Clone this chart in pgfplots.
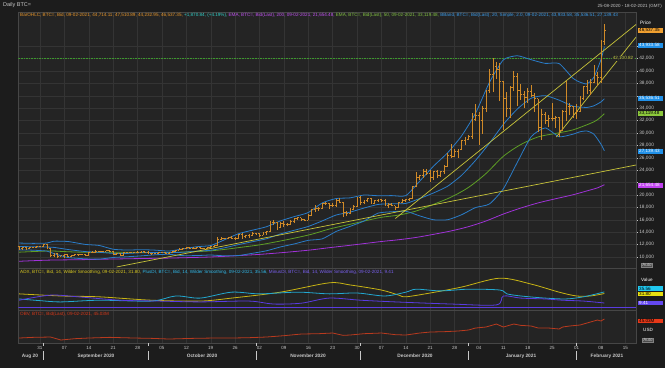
\documentclass[border=0pt]{standalone}
\usepackage{fontspec}
\setmainfont{Liberation Sans}
\usepackage{pgfplots}
\pgfplotsset{compat=1.18}
\usepackage{pgfplotstable}

\definecolor{outerbg}{HTML}{1C1C1C}
\definecolor{panelbg}{HTML}{242424}
\definecolor{gridc}{HTML}{343434}
\definecolor{framec}{HTML}{464646}
\definecolor{txt}{HTML}{C8C8C8}
\definecolor{candlec}{HTML}{D08A28}
\definecolor{bbc}{HTML}{2A7CC8}
\definecolor{ema50c}{HTML}{5E9E24}
\definecolor{ema200c}{HTML}{A032D8}
\definecolor{trendc}{HTML}{C8C43A}
\definecolor{resc}{HTML}{3C9A2C}
\definecolor{adxc}{HTML}{C8B414}
\definecolor{pdic}{HTML}{22A8D0}
\definecolor{mdic}{HTML}{5A3CE0}
\definecolor{obvc}{HTML}{B83A1E}
\definecolor{bxOrange}{HTML}{F0A030}
\definecolor{bxBlue}{HTML}{2090E8}
\definecolor{bxGreen}{HTML}{8CC83C}
\definecolor{bxPurple}{HTML}{C040F0}
\definecolor{bxCyan}{HTML}{20C8F0}
\definecolor{bxYellow}{HTML}{E8E010}
\definecolor{bxViolet}{HTML}{6448F0}
\definecolor{bxRed}{HTML}{E83818}
\definecolor{hOrange}{HTML}{E8962A}
\definecolor{hCyan}{HTML}{30D0C8}
\definecolor{hPurple}{HTML}{C050F0}
\definecolor{hGreen}{HTML}{80C040}
\definecolor{hBlue}{HTML}{3A9AE8}
\definecolor{hYellow}{HTML}{D8C820}
\definecolor{hCyanB}{HTML}{30B8E8}
\definecolor{hViolet}{HTML}{7A60F0}
\definecolor{hRed}{HTML}{D83818}
\definecolor{resT}{HTML}{C8D048}

\newcommand{\fs}[1]{\fontsize{#1}{#1}\selectfont}

\pgfdeclareplotmark{ohlcopen}{\pgfpathmoveto{\pgfqpoint{-1.4pt}{0pt}}\pgfpathlineto{\pgfqpoint{0pt}{0pt}}\pgfusepathqstroke}
\pgfdeclareplotmark{ohlcclose}{\pgfpathmoveto{\pgfqpoint{0pt}{0pt}}\pgfpathlineto{\pgfqpoint{1.4pt}{0pt}}\pgfusepathqstroke}

\pgfplotsset{
  chartpanel/.style={
    scale only axis, anchor=south west, width=617.7pt,
    xmin=-0.2, xmax=177.1,
    scaled x ticks=false, scaled y ticks=false,
    axis background/.style={fill=panelbg},
    axis line style={draw=framec, line width=0.5pt},
    xtick={6,13,...,174}, xticklabels={},
    xmajorgrids, major grid style={draw=gridc, line width=0.4pt},
    major x tick style={draw=none},
  },
}

\pgfplotstableread{
d o h l c
0 11750 11760 11130 11366
1 11366 11540 11150 11488
2 11488 11590 11160 11323
3 11323 11580 11300 11542
4 11542 11680 11420 11506
5 11506 11760 11460 11712
6 11712 11800 11580 11680
7 11680 12050 11560 11970
8 11970 12060 11220 11414
9 11414 11470 10000 10245
10 10245 10620 9960 10511
11 10511 10580 9880 10169
12 10169 10350 10090 10280
13 10280 10400 9900 10369
14 10369 10440 9950 10131
15 10131 10350 10060 10242
16 10242 10500 10200 10363
17 10363 10470 10240 10400
18 10400 10550 10370 10442
19 10442 10560 10250 10323
20 10323 10800 10300 10680
21 10680 10930 10620 10796
22 10796 11080 10750 10974
23 10974 11040 10760 10948
24 10948 11030 10840 10944
25 10944 11170 10900 11094
26 11094 11120 10850 10938
27 10938 10990 10400 10462
28 10462 10570 10390 10538
29 10538 10580 10200 10246
30 10246 10800 10210 10760
31 10760 10770 10630 10692
32 10692 10780 10650 10750
33 10750 10800 10630 10776
34 10776 10950 10680 10709
35 10709 10870 10640 10844
36 10844 10860 10680 10784
37 10784 10920 10550 10620
38 10620 10640 10400 10570
39 10570 10600 10510 10542
40 10542 10690 10500 10666
41 10666 10800 10640 10793
42 10793 10800 10560 10604
43 10604 10700 10590 10668
44 10668 10950 10650 10915
45 10915 11120 10840 11064
46 11064 11420 11050 11296
47 11296 11420 11280 11384
48 11384 11690 11320 11555
49 11555 11560 11320 11425
50 11425 11550 11300 11429
51 11429 11620 11290 11495
52 11495 11540 11250 11322
53 11322 11380 11300 11358
54 11358 11500 11350 11483
55 11483 11800 11410 11742
56 11742 12000 11690 11916
57 11916 13200 11900 12823
58 12823 13160 12710 12965
59 12965 13020 12880 12931
60 12931 13160 12910 13108
61 13108 13350 12980 13031
62 13031 13220 12820 13075
63 13075 13760 13060 13654
64 13654 13840 12950 13271
65 13271 13620 12990 13437
66 13437 13640 13130 13546
67 13546 14020 13530 13781
68 13781 13860 13620 13737
69 13737 13810 13300 13550
70 13550 14060 13540 13950
71 13950 14220 13620 14133
72 14133 15740 14090 15579
73 15579 15960 15170 15565
74 15565 15690 14420 14833
75 14833 15660 14750 15479
76 15479 15840 14830 15332
77 15332 15450 14950 15290
78 15290 15940 15270 15701
79 15701 16320 15460 16276
80 16276 16480 15990 16317
81 16317 16330 15880 16068
82 16068 16140 15870 15955
83 15955 16860 15910 16716
84 16716 17760 16580 17645
85 17645 18390 17260 17804
86 17804 18120 17430 17817
87 17817 18770 17760 18621
88 18621 18950 18450 18642
89 18642 18690 17710 18370
90 18370 18770 18050 18364
91 18364 19390 18130 19107
92 19107 19500 18630 18732
93 18732 18920 16440 17150
94 17150 17480 16560 17108
95 17108 17860 16920 17717
96 17717 18330 17570 18177
97 18177 19750 18100 19625
98 19625 19890 18350 18802
99 18802 19270 18600 19202
100 19202 19550 18920 19445
101 19445 19500 18620 18699
102 18699 19180 18560 19154
103 19154 19400 18930 19345
104 19345 19390 18920 19191
105 19191 19290 18230 18321
106 18321 18640 17930 18553
107 18553 18710 18180 18264
108 18264 18290 17620 18058
109 18058 18950 18020 18803
110 18803 19360 18760 19142
111 19142 19330 18950 19246
112 19246 19550 19080 19417
113 19417 21500 19300 21310
114 21310 23700 21250 22805
115 22805 23280 22380 23137
116 23137 24150 22810 23869
117 23869 24270 23180 23477
118 23477 24060 22160 22803
119 22803 23830 22390 23783
120 23783 24090 22720 23241
121 23241 23840 22900 23735
122 23735 24780 23460 24664
123 24664 26700 24580 26437
124 26437 28300 25950 26272
125 26272 27350 26200 27084
126 27084 27370 25980 27362
127 27362 28950 27250 28841
128 28841 29300 28000 29001
129 29001 29600 28800 29374
130 29374 33160 29100 32127
131 32127 34600 32000 32782
132 32782 33440 28130 31971
133 31971 34400 29900 33992
134 33992 36900 33400 36824
135 36824 40300 36400 39371
136 39371 42101 36600 40797
137 40797 41400 38700 40254
138 40254 41300 35200 38356
139 38356 38360 30550 35566
140 35566 36600 32550 33922
141 33922 37600 32400 37316
142 37316 39960 36750 39187
143 39187 39700 34400 36825
144 36825 37900 35400 36178
145 36178 36800 34000 35792
146 35792 37200 34900 36630
147 36630 37800 35800 36069
148 36069 36400 33400 35547
149 35547 35550 30100 30825
150 30825 33800 28950 33005
151 33005 33350 31400 32067
152 32067 32900 30950 32289
153 32289 34800 31900 32366
154 32366 32800 30800 32569
155 32569 32600 29300 30432
156 30432 33780 30300 33467
157 33467 38400 31900 34316
158 34316 34800 32900 34269
159 34269 34290 32400 33115
160 33115 34600 32300 33538
161 33538 35900 33450 35510
162 35510 37650 35400 37472
163 37472 38590 36300 36926
164 36926 38700 36200 38144
165 38144 40900 38000 39266
166 39266 39800 37500 38903
167 38903 45000 38050 44714
168 44714 47511 44233 46537
}\candles

\pgfplotstableread{
d up mid low
0 12250 11700 11150
4 12200 11650 11100
8 12250 11600 10950
10 12550 11550 10550
14 12500 11210 9920
19 12030 10874 9710
23 11860 10758 9660
27 11250 10586 9925
31 11120 10581 10040
35 11180 10684 10180
39 11110 10733 10355
43 10960 10700 10440
47 11300 10761 10220
51 11660 10944 10230
55 11850 11086 10320
59 12790 11492 10190
63 13760 11999 10240
67 14330 12467 10600
71 14880 12941 11000
75 15820 13718 11620
79 16520 14316 12110
83 17170 14926 12690
87 18720 15818 12920
91 19430 16774 14120
95 19540 17237 14940
99 20000 17897 15800
103 19880 18476 17070
107 19900 18598 17300
111 19900 18637 17380
115 22240 19435 16630
119 24680 20341 16000
123 26810 21413 16010
127 29530 23174 16810
131 33180 25576 17970
135 38150 28351 18550
139 41800 31403 21000
143 42460 33861 25260
147 41820 35617 29410
151 41230 36025 30820
155 41200 35300 29400
159 38810 34309 29810
161 38200 34200 30200
163 37920 34119 30320
165 39000 34391 29800
167 41810 35011 28210
168 43934 35537 27139
}\bbands

\pgfplotstableread{
d e50 e200
0 10780 9310
4 10876 9405
9 10972 9503
14 10849 9542
19 10759 9582
24 10779 9645
29 10757 9694
34 10753 9745
39 10738 9790
44 10736 9836
49 10846 9910
54 10949 9984
59 11225 10106
64 11588 10258
69 11954 10422
74 12471 10636
79 13040 10879
84 13674 11155
89 14502 11501
94 15152 11823
99 15795 12159
104 16405 12501
109 16766 12789
114 17421 13160
119 18506 13660
124 19658 14207
129 21228 14896
134 23456 15806
139 26246 16931
144 28136 17895
149 29373 18728
154 29932 19398
159 30509 20040
164 31560 20820
166 32138 21150
168 33119 21654
}\emas

\begin{document}
\begin{tikzpicture}
\fill[outerbg] (0pt,0pt) rectangle (665pt,368pt);
\path[use as bounding box] (0pt,0pt) rectangle (665pt,368pt);

% ---------------- main price panel
\begin{axis}[chartpanel, at={(18.4pt,100pt)}, height=256pt,
  ymin=8226, ymax=49516,
  ytick={10000,12000,...,44000},
  yticklabels={{10,000},{12,000},{14,000},{16,000},{18,000},{20,000},{},{24,000},{26,000},{28,000},{30,000},{32,000},{34,000},{},{38,000},{40,000},{42,000},{}},
  ytick pos=right, yticklabel pos=right, ymajorgrids,
  tick align=outside, major tick length=2pt,
  major y tick style={draw=txt, line width=0.4pt},
  yticklabel style={font=\fs{4.8}, text=txt, anchor=west, inner sep=1pt},
]
\addplot[resc, line width=0.7pt, dash pattern=on 1.6pt off 1pt] coordinates {(-0.2,42100.82) (177.1,42100.82)};
\addplot[ema200c, line width=0.8pt, smooth] table[x=d, y=e200] {\emas};
\addplot[ema50c, line width=0.8pt, smooth] table[x=d, y=e50] {\emas};
\addplot[bbc, line width=0.8pt, smooth, tension=0.35] table[x=d, y=up] {\bbands};
\addplot[bbc, line width=0.8pt, smooth, tension=0.35] table[x=d, y=mid] {\bbands};
\addplot[bbc, line width=0.8pt, smooth, tension=0.35] table[x=d, y=low] {\bbands};
\addplot[trendc, line width=0.7pt] coordinates {(28,8390) (177.1,24840)};
\addplot[trendc, line width=0.7pt] coordinates {(108,16210) (177.1,47510)};
\addplot[trendc, line width=0.7pt] coordinates {(154.2,29350) (177.1,45480)};
\addplot[draw=none, mark=none,
  error bars/.cd, y dir=plus, y explicit, error mark=none,
  error bar style={draw=candlec, line width=0.8pt, solid}]
  table[x=d, y=l, y error plus expr=\thisrow{h}-\thisrow{l}] {\candles};
\addplot[candlec, line width=0.8pt, only marks, mark=ohlcopen] table[x=d, y=o] {\candles};
\addplot[candlec, line width=0.8pt, only marks, mark=ohlcclose] table[x=d, y=c] {\candles};
\end{axis}

% ---------------- ADX panel
\begin{axis}[chartpanel, at={(18.4pt,58pt)}, height=42pt,
  ymin=-7.08, ymax=91.98, ytick=\empty]
\addplot[mdic, line width=0.7pt] coordinates {(-0.2,0) (177.1,0)};
\addplot[adxc, line width=0.8pt, smooth, tension=0.5] table {
0 31
12 26
23 24
38 16
52 14
61 21
75 35
89 57
95 52
104 40
109 28
111 24
118 33
127 47
138 68
147 54
155 35
160 26
164 26
168 31.8
};
\addplot[pdic, line width=0.8pt, smooth, tension=0.5] table {
0 19
6 15
12 12
23 16
38 14
45 26
52 21
61 35
69 31
80 35
89 31
97 33
105 26
111 35
114 42
121 38
129 42
138 40
140 31
144 26
151 21
157 19
162 24
168 35.56
};
\addplot[mdic, line width=0.8pt, smooth, tension=0.5] table {
0 16
9 28
17 24
29 16
40 14
52 12
66 14
73 7
81 9
89 21
98 16
108 12
124 7
137 5
139 26
144 21
151 19
156 16
162 14
168 9.41
};
\end{axis}

% ---------------- OBV panel
\begin{axis}[chartpanel, at={(18.4pt,25pt)}, height=33pt,
  ymin=9.03, ymax=58.53, ytick=\empty,
  xticklabels={31,07,14,21,28,05,12,19,26,02,09,16,23,30,07,14,21,28,04,11,18,25,01,08,15},
  xticklabel style={font=\fs{4.5}, text=txt, anchor=center, yshift=-5pt}]
\addplot[obvc, line width=0.8pt] table {
0 16.5
4 17.5
9 18.0
12 13.5
16 15.5
20 16.5
26 17.5
33 16.5
38 16.0
43 15.0
50 16.0
56 16.5
61 16.5
66 17.0
71 18.0
76 20.0
81 22.5
86 23.0
90 24.0
93 20.5
95 21.0
99 23.0
104 24.0
108 21.5
111 21.0
115 24.0
118 25.5
122 26.0
126 27.0
129 28.5
131 31.5
134 33.0
137 37.5
139 33.0
142 37.5
144 35.5
147 34.5
149 31.5
152 31.5
155 30.0
156 33.0
158 34.5
161 36.0
164 40.5
166 43.5
167 42.0
168 45.03
};
\end{axis}

% ---------------- texts
\node[anchor=west, inner sep=0pt, font=\fs{5.5}, text=txt] at (3pt,362.5pt) {Daily BTC=};
\node[anchor=east, inner sep=0pt, font=\fs{4.5}, text=txt] at (662pt,361.5pt) {25-08-2020 - 18-02-2021 (GMT)};
\node[anchor=west, inner sep=0pt, font=\fs{4.6}] at (20pt,352.5pt) {\textcolor{hOrange}{BarOHLC, BTC=, Bid, 09-02-2021, 44,714.11, 47,510.89, 44,232.95, 46,537.35,} \textcolor{hCyan}{+1,870.84, (+4.19\%),} \textcolor{hPurple}{EMA, BTC=, Bid(Last), 200, 09-02-2021, 21,654.48,} \textcolor{hGreen}{EMA, BTC=, Bid(Last), 50, 09-02-2021, 33,119.48,} \textcolor{hBlue}{BBand, BTC=, Bid(Last), 20, Simple, 2.0, 09-02-2021, 43,933.58, 35,536.51, 27,139.43}};
\node[anchor=west, inner sep=0pt, font=\fs{4.6}] at (20pt,96pt) {\textcolor{hYellow}{ADX, BTC=, Bid, 14, Wilder Smoothing, 09-02-2021, 31.80,} \textcolor{hCyanB}{PlusDI, BTC=, Bid, 14, Wilder Smoothing, 09-02-2021, 35.56,} \textcolor{hViolet}{MinusDI, BTC=, Bid, 14, Wilder Smoothing, 09-02-2021, 9.41}};
\node[anchor=west, inner sep=0pt, font=\fs{4.6}, text=hRed] at (20pt,54pt) {OBV, BTC=, Bid(Last), 09-02-2021, 45.03M};

% right column labels
\node[anchor=west, inner sep=0pt, font=\fs{4.8}, text=white] at (640pt,345pt) {Price};
\tikzset{vbox/.style={anchor=west, font=\fs{4.6}, inner xsep=1pt, inner ysep=0.6pt, minimum width=25pt, text width=23pt, align=left}}
\node[vbox, fill=bxOrange, text=black] at (638pt,338pt) {46,537.35};
\node[vbox, fill=bxBlue, text=white] at (638pt,322.5pt) {43,933.58};
\node[anchor=center, inner sep=0.6pt, fill=panelbg, font=\fs{4.6}, text=resT] at (623pt,310pt) {42,100.82};
\node[vbox, fill=bxBlue, text=white] at (638pt,269.5pt) {35,536.51};
\node[vbox, fill=bxGreen, text=black] at (638pt,254.5pt) {33,119.48};
\node[vbox, fill=bxBlue, text=white] at (638pt,217pt) {27,139.43};
\node[vbox, fill=bxPurple, text=white] at (638pt,183pt) {21,654.48};
\node[draw=gray, fill=black!70, inner sep=0.7pt, font=\fs{4.5}, text=txt] at (647pt,103pt) {Auto};
\node[anchor=west, inner sep=0pt, font=\fs{4.6}, text=white] at (641pt,88pt) {Value};
\node[vbox, fill=bxCyan, text=black] at (638pt,79.5pt) {35.56};
\node[vbox, fill=bxYellow, text=black] at (638pt,74pt) {31.80};
\node[vbox, fill=bxViolet, text=white] at (638pt,65pt) {9.41};
\node[vbox, fill=bxRed, text=black] at (638pt,47pt) {45.03M};
\node[anchor=west, inner sep=0pt, font=\fs{4.6}, text=white] at (643pt,38pt) {USD};
\node[draw=gray, fill=black!70, inner sep=0.7pt, font=\fs{4.5}, text=txt] at (648pt,28pt) {Auto};

% month labels and separators
\foreach \xx in {43.5,148,256,360.5,468.5,576.5} {
  \draw[txt, line width=0.4pt] (\xx pt,25pt) -- (\xx pt,22pt);
  \draw[txt, line width=0.5pt] (\xx pt,17pt) -- (\xx pt,8pt);
}
\tikzset{mlab/.style={anchor=center, inner sep=0pt, font=\bfseries\fs{4.8}, text=txt}}
\node[mlab] at (30pt,12pt) {Aug 20};
\node[mlab] at (96pt,12pt) {September 2020};
\node[mlab] at (202pt,12pt) {October 2020};
\node[mlab] at (308pt,12pt) {November 2020};
\node[mlab] at (415pt,12pt) {December 2020};
\node[mlab] at (521pt,12pt) {January 2021};
\node[mlab] at (607pt,12pt) {February 2021};
\end{tikzpicture}
\end{document}
